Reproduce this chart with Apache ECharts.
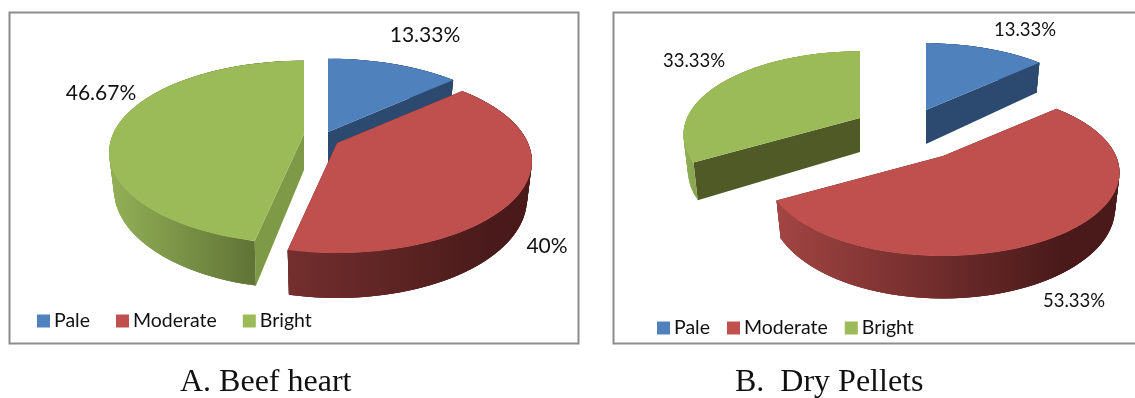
<!DOCTYPE html>
<html>
<head>
<meta charset="utf-8">
<style>html,body{margin:0;padding:0;background:#fff}#chart{width:1135px;height:398px}</style>
<script src="https://cdn.jsdelivr.net/npm/echarts@6/dist/echarts.min.js"></script>
</head>
<body>
<div id="chart"></div>
<script>
// Share of fish in each colour class, in percent, per diet
const categories = ['Pale', 'Moderate', 'Bright'];
const beefHeart = [13.33, 40, 46.67];
const dryPellets = [13.33, 53.33, 33.33];
const panelTitles = ['A. Beef heart', 'B.  Dry Pellets'];

const topColors = ['#4f81bd', '#c0504d', '#9bbb59'];
const TAU = Math.PI * 2;
const SANS = 'Lato, "Open Sans", sans-serif';

// Tilted-disc geometry of each panel; a slice's hub is moved apart from the others
const panels = [
  {
    values: beefHeart, radius: 191, tilt: 88, depth: 36, perspective: 0.2, labelSize: 21,
    hubs: [[328, 132], [337, 143], [304, 134]],
    labels: [[425, 35], [547, 246], [101, 93]],
    faces: ['#2c4a70', '#4a1a1a', '#7f9a47'],
    rims: [
      { from: 327, to: 456, stops: ['#2c4a70', '#2c4a70'] },
      { from: 288, to: 490, stops: ['#732f2e', '#4a1a1a'] },
      { from: 110, to: 256, stops: ['#93b056', '#5f7335'] }
    ]
  },
  {
    values: dryPellets, radius: 173, tilt: 80, depth: 34, perspective: 0.2, labelSize: 18.5,
    hubs: [[926, 110], [943, 156], [860, 118]],
    labels: [[1025, 30], [1074, 301], [694, 61]],
    faces: ['#2c4a70', '#4a1a1a', '#4f5a27'],
    rims: [
      { from: 925, to: 1040, stops: ['#2c4a70', '#2c4a70'] },
      { from: 776, to: 1060, stops: ['#a24543', '#4a1a1a'] },
      { from: 683, to: 700, stops: ['#93b056', '#86a04d'] }
    ]
  }
];

// Screen position of a disc point at clockwise angle theta from the back of the pie
function project(panel, hub, theta, lowered) {
  const w = 1 / (1 + panel.perspective * Math.cos(theta));
  const shrink = lowered ? 0.975 : 1;
  return [
    hub[0] + panel.radius * Math.sin(theta) * w * shrink,
    hub[1] - panel.tilt * Math.cos(theta) * w + (lowered ? panel.depth * w : 0)
  ];
}

function arc(panel, hub, a0, a1, lowered) {
  const steps = Math.max(8, Math.ceil(Math.abs(a1 - a0) / 0.03));
  const pts = [];
  for (let i = 0; i <= steps; i++) {
    pts.push(project(panel, hub, a0 + (a1 - a0) * i / steps, lowered));
  }
  return pts;
}

function polygon(points, fill) {
  return { type: 'polygon', shape: { points: points }, style: { fill: fill, stroke: null } };
}

// One wedge: cut faces first, then the outer rim, then the flat top and its label
function wedgeRenderer(panel, index) {
  return function (params, api) {
    const value = api.value(0);
    const total = panel.values.reduce((s, v) => s + v, 0);
    const before = panel.values.slice(0, index).reduce((s, v) => s + v, 0);
    const a0 = before / total * TAU;
    const a1 = (before + value) / total * TAU;
    const hub = panel.hubs[index];
    const low = [hub[0], hub[1] + panel.depth];
    const topArc = arc(panel, hub, a0, a1, false);
    const lowArc = arc(panel, hub, a0, a1, true);
    const rim = panel.rims[index];
    const rimFill = new echarts.graphic.LinearGradient(rim.from, 0, rim.to, 0, [
      { offset: 0, color: rim.stops[0] }, { offset: 1, color: rim.stops[1] }
    ], true);
    const label = panel.labels[index];
    const last = topArc.length - 1;
    const children = [
      polygon([hub, topArc[0], lowArc[0], low], panel.faces[index]),
      polygon([hub, topArc[last], lowArc[last], low], panel.faces[index])
    ];
    // The rim is swept in overlapping strips so it has no seams and a convex silhouette
    for (let i = 0; i < last; i++) {
      const j = Math.min(i + 3, last);
      children.push(polygon([topArc[i], topArc[j], lowArc[j], lowArc[i]], rimFill));
    }
    children.push(polygon([hub].concat(topArc), topColors[index]));
    children.push({
      type: 'text', z2: 10,
      style: {
        x: label[0], y: label[1], text: value + '%', fill: '#111',
        font: panel.labelSize + 'px ' + SANS, align: 'center', verticalAlign: 'middle'
      }
    });
    return { type: 'group', children: children };
  };
}

// Back slice first so the nearer ones overlap it
const paintOrder = [0, 2, 1];
const series = [];
panels.forEach((panel) => {
  paintOrder.forEach((i, order) => {
    series.push({
      type: 'custom',
      name: categories[i],
      coordinateSystem: 'none',
      silent: true,
      z: 2 + order,
      itemStyle: { color: topColors[i] },
      data: [[panel.values[i]]],
      renderItem: wedgeRenderer(panel, i)
    });
  });
});

const titleStyle = { fontFamily: '"Liberation Serif", serif', fontSize: 32, fontWeight: 'normal', color: '#111' };
const legendBase = {
  data: categories, itemWidth: 13, itemHeight: 13, padding: 0, icon: 'rect', selectedMode: false,
  textStyle: { fontFamily: SANS, fontSize: 19.5, color: '#111', padding: [0, 0, 0, -1] }
};

const chart = echarts.init(document.getElementById('chart'), null, { renderer: 'canvas' });
chart.setOption({
  animation: false,
  backgroundColor: '#fff',
  title: [
    { text: panelTitles[0], left: 175, top: 362, textStyle: titleStyle },
    { text: panelTitles[1], left: 730, top: 362, textStyle: titleStyle }
  ],
  legend: [
    Object.assign({}, legendBase, { left: 37, top: 311, itemGap: 26 }),
    Object.assign({}, legendBase, { left: 657, top: 318, itemGap: 17 })
  ],
  graphic: [
    { type: 'rect', z: 0, shape: { x: 9.5, y: 12.5, width: 569, height: 331 }, style: { fill: '#fff', stroke: '#8c8c8c', lineWidth: 2 } },
    { type: 'rect', z: 0, shape: { x: 613.5, y: 12.5, width: 530, height: 331 }, style: { fill: '#fff', stroke: '#8c8c8c', lineWidth: 2 } }
  ],
  series: series
});
</script>
</body>
</html>
